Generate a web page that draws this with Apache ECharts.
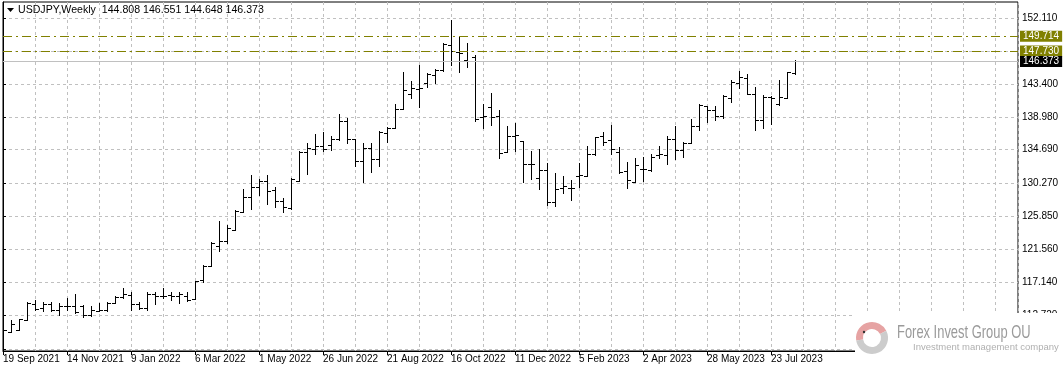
<!DOCTYPE html>
<html>
<head>
<meta charset="utf-8">
<script src="https://cdn.jsdelivr.net/npm/echarts@6/dist/echarts.min.js"></script>
<style>
html,body{margin:0;padding:0;background:#fff;}
#c{width:1064px;height:372px;}
</style>
</head>
<body>
<div id="c"></div>
<script>
// ---- data (weekly USDJPY bars, first bar = week of 19 Sep 2021) ----
const opens  = [109.90,110.58,110.89,112.17,114.28,113.71,114.32,113.44,113.97,114.00,113.97,112.78,113.40,113.49,114.41,115.16,115.51,114.28,113.71,115.56,115.29,115.47,115.38,115.38,114.94,117.40,119.25,122.00,122.65,124.10,126.44,128.42,129.74,130.57,129.38,127.93,126.96,130.49,134.36,134.80,135.24,135.33,136.04,138.50,136.04,133.22,134.89,133.44,136.83,137.53,140.04,142.07,142.77,143.57,144.54,145.24,148.59,147.62,146.56,146.99,138.99,140.31,139.16,134.41,136.52,135.82,132.82,130.97,132.03,127.71,129.56,129.56,131.24,131.24,134.14,136.47,135.95,134.36,131.81,130.40,132.16,131.98,134.01,134.01,136.04,134.71,135.59,137.80,140.44,139.91,139.20,141.58,143.52,144.14,142.02,138.68,141.67,140.79,141.50,144.808];
const highs  = [110.89,112.21,112.34,114.50,114.77,114.50,114.59,114.41,115.03,115.65,114.19,113.97,114.41,114.59,115.38,116.44,115.91,114.50,115.82,115.82,116.44,115.91,115.82,115.91,117.32,119.47,122.42,125.20,124.76,126.70,129.52,131.28,130.84,131.37,129.69,128.28,130.93,134.45,135.59,136.74,137.00,136.56,139.38,138.94,136.12,135.51,135.59,137.18,137.71,140.70,144.98,143.74,145.86,144.80,145.33,148.76,151.85,149.64,148.85,147.18,140.75,142.16,139.95,137.84,138.28,135.90,134.50,134.76,132.91,131.59,131.15,130.71,132.91,135.11,136.43,137.00,137.97,135.07,133.04,133.57,133.74,134.18,135.24,136.56,137.80,135.68,138.76,140.70,140.53,140.44,141.94,143.87,145.11,144.76,142.99,141.94,141.85,143.96,145.02,146.551];
const lows   = [109.21,110.54,110.89,112.17,113.53,113.40,113.40,112.83,113.53,113.09,112.56,112.65,113.31,113.35,114.41,115.07,113.44,113.62,113.53,114.24,115.03,114.85,114.41,114.68,114.94,117.23,119.25,121.24,122.30,124.10,126.44,126.88,128.64,127.49,127.05,126.44,126.88,130.49,131.46,134.18,134.45,134.62,135.95,135.51,132.51,130.40,131.72,132.51,135.77,137.53,140.04,141.50,140.31,143.04,143.48,145.15,145.94,144.98,145.59,138.46,137.58,138.02,133.53,134.41,134.58,130.44,130.80,129.47,127.36,127.18,128.95,128.07,129.74,131.24,133.97,135.33,134.10,131.63,129.60,130.40,130.49,131.90,133.57,132.86,133.39,133.74,135.59,137.35,138.41,138.59,138.85,141.06,142.90,142.02,137.27,137.62,138.06,140.62,141.50,144.648];
const closes = [110.85,111.68,112.30,114.41,113.62,114.32,113.53,113.97,113.97,113.18,112.78,113.49,113.44,114.41,115.16,115.60,114.28,113.71,115.65,115.29,115.38,115.29,115.65,114.85,117.32,119.25,122.34,122.65,124.32,126.61,128.42,129.74,130.49,129.25,127.93,127.05,130.84,134.36,134.89,135.24,134.80,136.04,138.50,136.04,133.22,134.89,133.44,137.00,137.62,140.09,142.60,142.82,142.86,144.71,145.24,148.67,147.71,147.44,146.47,138.72,139.16,138.99,134.23,136.52,136.61,132.82,132.73,132.03,127.71,129.47,129.91,129.56,131.32,134.14,136.34,135.68,134.80,131.72,130.66,132.69,132.07,133.74,134.10,136.12,134.71,135.59,137.80,140.62,139.91,139.20,141.76,143.70,144.31,142.02,138.68,141.67,141.50,141.67,144.93,146.373];
const dateLabels = ['19 Sep 2021','14 Nov 2021','9 Jan 2022','6 Mar 2022','1 May 2022','26 Jun 2022','21 Aug 2022','16 Oct 2022','11 Dec 2022','5 Feb 2023','2 Apr 2023','28 May 2023','23 Jul 2023'];
const priceTicks = ['108.340','112.720','117.140','121.560','125.850','130.270','134.690','138.980','143.400','147.750','152.110'];
const levelLines = ['149.714', '147.730'];
const bidLine = '146.373';
const titleText = 'USDJPY,Weekly  144.808 146.551 144.648 146.373';

// ---- build ----
const WEEKS_PER_LABEL = 8;
const ohlc = opens.map((o, i) => [i, o, highs[i], lows[i], closes[i]]);
const yTickVals = priceTicks.map(Number);
const xLabelVals = dateLabels.map((d, i) => i * WEEKS_PER_LABEL);
const XMAX = 126.875;
const FONT = 'Liberation Sans, Arial, sans-serif';

const chart = echarts.init(document.getElementById('c'), null, {renderer: 'canvas'});

function renderBar(params, api) {
  const x = api.value(0);
  const o = api.coord([x, api.value(1)]);
  const h = api.coord([x, api.value(2)]);
  const l = api.coord([x, api.value(3)]);
  const c = api.coord([x, api.value(4)]);
  const px = Math.round(o[0]);
  const ry = v => Math.round(v);
  const top = ry(h[1]);
  return {
    type: 'group',
    children: [
      {type: 'rect', shape: {x: px, y: top, width: 1, height: Math.max(1, ry(l[1]) - top + 1)}, style: {fill: '#000'}},
      {type: 'rect', shape: {x: px - 3, y: ry(o[1]), width: 3, height: 1}, style: {fill: '#000'}},
      {type: 'rect', shape: {x: px + 1, y: ry(c[1]), width: 3, height: 1}, style: {fill: '#000'}}
    ]
  };
}

function lineLabel(text, bg) {
  return {show: true, position: 'end', distance: 2, formatter: () => text,
    color: '#fff', backgroundColor: bg, padding: [1, 3, 0, 3], fontFamily: FONT, fontSize: 10};
}

const option = {
  animation: false,
  backgroundColor: '#fff',
  grid: {left: 3, right: 46, top: 2, bottom: 21, show: true, borderColor: '#000', borderWidth: 1, backgroundColor: '#fff'},
  xAxis: [
    {
      type: 'value', min: 0, max: XMAX, interval: 4,
      axisLine: {show: false}, axisTick: {show: false}, axisLabel: {show: false},
      splitLine: {show: true, lineStyle: {color: '#c0c0c0', type: [3, 3], width: 1}}
    },
    {
      type: 'value', min: 0, max: XMAX, position: 'bottom',
      axisLine: {show: true, onZero: false, lineStyle: {color: '#000', width: 1}},
      axisTick: {show: true, length: 4, lineStyle: {color: '#000'}, customValues: xLabelVals},
      axisLabel: {
        show: true, customValues: xLabelVals, align: 'left', margin: 3,
        color: '#000', fontFamily: FONT, fontSize: 10,
        formatter: v => dateLabels[Math.round(v / WEEKS_PER_LABEL)] || ''
      },
      splitLine: {show: false}
    }
  ],
  yAxis: {
    type: 'value', position: 'right', min: 108.05, max: 154.23, scale: true,
    axisLine: {show: true, lineStyle: {color: '#000', width: 1}},
    axisTick: {show: true, length: 3, lineStyle: {color: '#000'}, customValues: yTickVals},
    axisLabel: {
      show: true, customValues: yTickVals, margin: 4, color: '#000',
      fontFamily: FONT, fontSize: 10,
      formatter: v => v.toFixed(3)
    },
    splitLine: {show: true, lineStyle: {color: '#c0c0c0', type: [3, 3], width: 1}}
  },
  series: [
    {
      type: 'custom', xAxisIndex: 0, yAxisIndex: 0,
      renderItem: renderBar, data: ohlc, silent: true, clip: true,
      encode: {x: 0, y: [1, 2, 3, 4]}
    },
    {
      type: 'line', xAxisIndex: 0, yAxisIndex: 0, data: [], silent: true,
      markLine: {
        silent: true, symbol: 'none', animation: false, precision: 3,
        data: [
          ...levelLines.map(v => ({
            yAxis: Number(v),
            lineStyle: {color: '#808000', type: [9, 4, 2, 4], width: 1},
            label: lineLabel(v, '#808000')
          })),
          {
            yAxis: Number(bidLine),
            lineStyle: {color: '#c0c0c0', type: 'solid', width: 1},
            label: lineLabel(bidLine, '#000')
          }
        ]
      }
    }
  ],
  graphic: [
    {type: 'polygon', shape: {points: [[7, 8], [14, 8], [10.5, 12]]}, style: {fill: '#000'}, z: 100},
    {type: 'text', x: 18, y: 10, style: {text: titleText, fill: '#000', font: '10.6px ' + FONT, textVerticalAlign: 'middle'}, z: 100},
    // watermark
    {type: 'rect', shape: {x: 855, y: 313, width: 209, height: 59}, style: {fill: '#fff'}, z: 90},
    {type: 'sector', shape: {cx: 872, cy: 338, r0: 9, r: 16, startAngle: Math.PI * 0.95, endAngle: Math.PI * 1.85}, style: {fill: '#e6a3a3'}, z: 91},
    {type: 'sector', shape: {cx: 872, cy: 338, r0: 9, r: 16, startAngle: Math.PI * 1.85, endAngle: Math.PI * 2.95}, style: {fill: '#cccccc'}, z: 91},
    {type: 'circle', shape: {cx: 864, cy: 332, r: 1.2}, style: {fill: '#333'}, z: 92},
    {type: 'text', x: 897, y: 333, scaleX: 0.68, style: {text: 'Forex Invest Group OU', fill: '#9a9a9a', font: '19px ' + FONT, textVerticalAlign: 'middle'}, z: 92},
    {type: 'text', x: 913, y: 347, style: {text: 'Investment management company', fill: '#b0b0b0', font: '9.5px ' + FONT, textVerticalAlign: 'middle'}, z: 92}
  ]
};
chart.setOption(option);
</script>
</body>
</html>
